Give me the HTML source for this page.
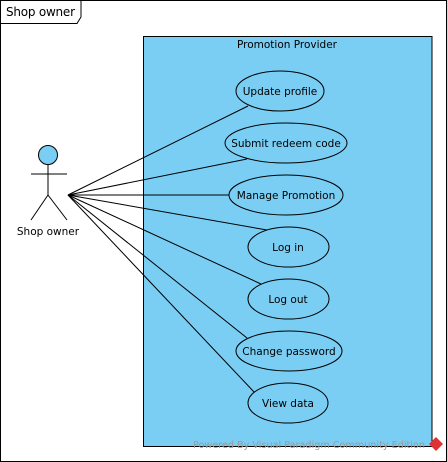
<!DOCTYPE html>
<html><head><style>body{margin:0;background:#fff}svg{display:block}</style></head><body>
<svg width="447" height="462" xmlns="http://www.w3.org/2000/svg" font-family="'DejaVu Sans', 'Liberation Sans', sans-serif" font-size="10.5">
<rect x="0.5" y="0.5" width="446" height="461" fill="#fff" stroke="#000"/>
<path d="M0.5 23.5 H77 L81 17 V0.5" fill="none" stroke="#000"/>
<text x="6" y="16" font-size="12" textLength="69">Shop owner</text>
<rect x="143.5" y="36.5" width="288.5" height="410" fill="#7acef4" stroke="#000"/>
<text x="287" y="48" text-anchor="middle">Promotion Provider</text>
<g stroke="#000" fill="none">
<line x1="68" y1="195" x2="248" y2="106"/>
<line x1="68" y1="195" x2="247" y2="159"/>
<line x1="68" y1="195" x2="229" y2="195"/>
<line x1="68" y1="195" x2="267" y2="230"/>
<line x1="68" y1="195" x2="261" y2="284"/>
<line x1="68" y1="195" x2="247" y2="338"/>
<line x1="68" y1="195" x2="255" y2="393"/>
<circle cx="48" cy="155" r="9.5" fill="#7acef4"/>
<line x1="48" y1="164.5" x2="48" y2="195"/>
<line x1="31" y1="174" x2="67" y2="174"/>
<line x1="48" y1="195" x2="31" y2="220"/>
<line x1="48" y1="195" x2="67" y2="220"/>
</g>
<text x="48" y="235" text-anchor="middle">Shop owner</text>
<g stroke="#000" fill="#7acef4">
<ellipse cx="280" cy="91" rx="44" ry="20"/>
<ellipse cx="286" cy="143" rx="61" ry="20"/>
<ellipse cx="286" cy="195" rx="57" ry="20"/>
<ellipse cx="288.5" cy="247" rx="40.5" ry="20"/>
<ellipse cx="288.5" cy="299" rx="40.5" ry="20"/>
<ellipse cx="289" cy="351" rx="53" ry="20"/>
<ellipse cx="288" cy="403" rx="40" ry="20"/>
</g>
<g text-anchor="middle">
<text x="280" y="95">Update profile</text>
<text x="286" y="147">Submit redeem code</text>
<text x="286" y="199">Manage Promotion</text>
<text x="288" y="251">Log in</text>
<text x="288" y="303">Log out</text>
<text x="289" y="355">Change password</text>
<text x="288" y="407">View data</text>
</g>
<text x="193" y="448" font-size="10" fill="#999" textLength="232" lengthAdjust="spacingAndGlyphs">Powered By Visual Paradigm Community Edition</text>
<path d="M436 437 L443 444 L436 451 L429 444 Z" fill="#d33"/>
</svg>
</body></html>
